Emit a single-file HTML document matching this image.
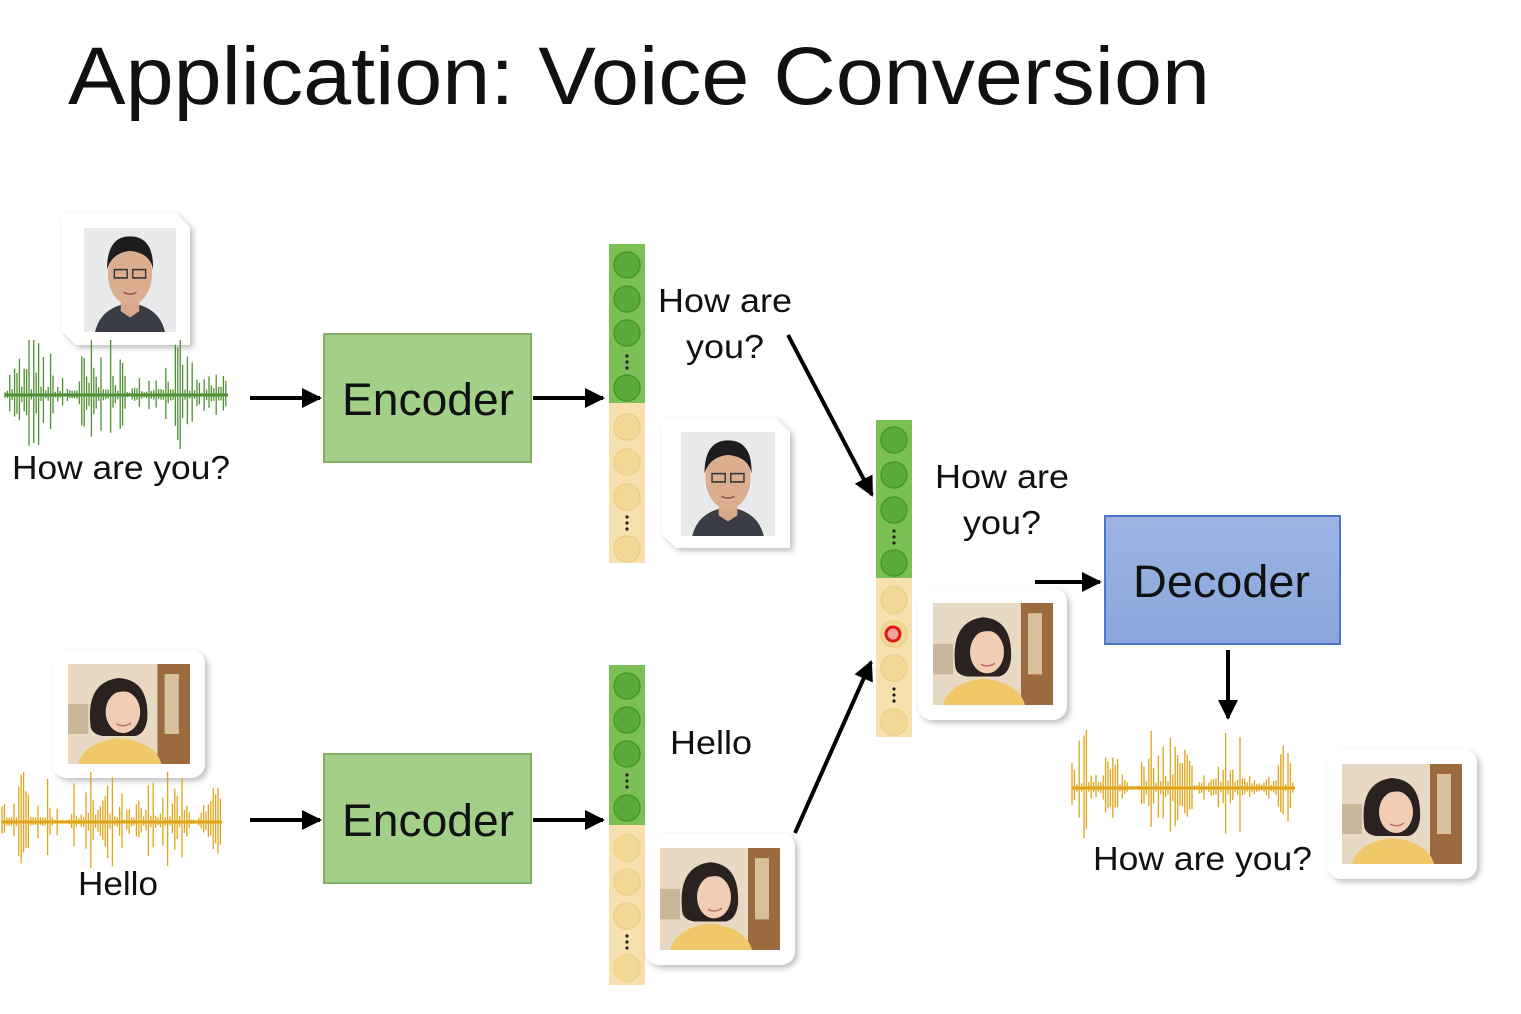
<!DOCTYPE html>
<html><head><meta charset="utf-8">
<style>
html,body{margin:0;padding:0;background:#fff;}
svg{display:block;}
text{font-family:"Liberation Sans","DejaVu Sans",sans-serif;fill:#111;}
</style></head>
<body>
<svg id="s" width="1521" height="1014" viewBox="0 0 1521 1014" xmlns="http://www.w3.org/2000/svg">
<defs>
  <marker id="ah" viewBox="0 0 10 10" refX="9" refY="5" markerWidth="5" markerHeight="5" orient="auto">
    <path d="M0,0 L10,5 L0,10 z" fill="#000"/>
  </marker>
  <linearGradient id="dec" x1="0" y1="0" x2="0" y2="1">
    <stop offset="0" stop-color="#9db4e3"/><stop offset="1" stop-color="#8aa6dc"/>
  </linearGradient>
  <filter id="sh" x="-10%" y="-10%" width="130%" height="130%">
    <feDropShadow dx="3" dy="3" stdDeviation="3" flood-color="#000" flood-opacity="0.25"/>
  </filter>
  <g id="man">
    <rect x="0" y="0" width="100" height="100" fill="#e9eaec"/>
    <path d="M12,100 Q18,76 50,72 Q82,76 88,100 z" fill="#3a3d45"/>
    <path d="M40,68 L60,68 L60,80 L50,86 L40,80 z" fill="#d9a88a"/>
    <ellipse cx="50" cy="44" rx="24" ry="30" fill="#dcae90"/>
    <path d="M25,40 Q25,8 50,8 Q76,8 75,40 Q72,24 50,22 Q30,24 25,40 z" fill="#1d1d1f"/>
    <rect x="33" y="40" width="14" height="8" fill="none" stroke="#333" stroke-width="1.5"/>
    <rect x="53" y="40" width="14" height="8" fill="none" stroke="#333" stroke-width="1.5"/>
    <path d="M43,62 Q50,65 57,62" stroke="#8a5a4a" stroke-width="1.5" fill="none"/>
  </g>
  <g id="woman">
    <rect x="0" y="0" width="120" height="100" fill="#e8d9c4"/>
    <rect x="88" y="0" width="32" height="100" fill="#9b6a3e"/>
    <rect x="95" y="10" width="14" height="60" fill="#d8c09c"/>
    <rect x="0" y="40" width="20" height="30" fill="#c9b79c"/>
    <path d="M10,100 Q16,78 50,74 Q86,78 92,100 z" fill="#f0c869"/>
    <path d="M22,60 Q18,18 50,14 Q80,16 78,55 Q76,70 66,72 L34,72 Q22,70 22,60 z" fill="#2a2220"/>
    <ellipse cx="54" cy="48" rx="17" ry="21" fill="#f2cdb4"/>
    <path d="M36,40 Q44,22 68,30 Q60,24 46,26 Q36,30 36,40 z" fill="#2a2220"/>
    <path d="M48,60 Q55,64 62,59" stroke="#c0706a" stroke-width="1.5" fill="none"/>
  </g>
</defs>

<text x="68" y="104" font-size="82" fill="#1a1a1a" textLength="1142" lengthAdjust="spacingAndGlyphs">Application: Voice Conversion</text>

<g filter="url(#sh)">
  <path d="M62,213 L176,213 L190,227 L190,345 L76,345 L62,331 z" fill="#fff"/>
</g>
<svg x="84" y="228" width="92" height="104" viewBox="0 0 100 100" preserveAspectRatio="none"><use href="#man"/></svg>

<g id="wv1"></g>
<text x="12" y="479" font-size="33" textLength="218" lengthAdjust="spacingAndGlyphs">How are you?</text>

<line x1="250" y1="398" x2="320" y2="398" stroke="#000" stroke-width="4" marker-end="url(#ah)"/>
<rect x="324" y="334" width="207" height="128" fill="#a3cf88" stroke="#82b068" stroke-width="2"/>
<text x="342" y="415" font-size="45" textLength="172" lengthAdjust="spacingAndGlyphs">Encoder</text>
<line x1="533" y1="398" x2="603" y2="398" stroke="#000" stroke-width="4" marker-end="url(#ah)"/>

<g id="vec1"></g>

<text x="658" y="312" font-size="33" textLength="134" lengthAdjust="spacingAndGlyphs">How are</text>
<text x="686" y="358" font-size="33" textLength="78" lengthAdjust="spacingAndGlyphs">you?</text>

<g filter="url(#sh)">
  <path d="M662,418 L776,418 L790,432 L790,548 L676,548 L662,534 z" fill="#fff"/>
</g>
<svg x="681" y="432" width="94" height="104" viewBox="0 0 100 100" preserveAspectRatio="none"><use href="#man"/></svg>

<line x1="788" y1="335" x2="872" y2="495" stroke="#000" stroke-width="4" marker-end="url(#ah)"/>

<g id="vec2"></g>
<circle cx="893" cy="634" r="7" fill="#f2a0a0" stroke="#e01818" stroke-width="3"/>

<text x="935" y="488" font-size="33" textLength="134" lengthAdjust="spacingAndGlyphs">How are</text>
<text x="963" y="534" font-size="33" textLength="78" lengthAdjust="spacingAndGlyphs">you?</text>

<g filter="url(#sh)"><rect x="918" y="588" width="149" height="132" rx="14" fill="#fff"/></g>
<svg x="933" y="603" width="120" height="102" viewBox="0 0 120 100" preserveAspectRatio="none"><use href="#woman"/></svg>

<line x1="1035" y1="582" x2="1100" y2="582" stroke="#000" stroke-width="4" marker-end="url(#ah)"/>
<rect x="1105" y="516" width="235" height="128" fill="url(#dec)" stroke="#4d78c6" stroke-width="2"/>
<text x="1133" y="597" font-size="45" textLength="177" lengthAdjust="spacingAndGlyphs">Decoder</text>
<line x1="1228" y1="650" x2="1228" y2="718" stroke="#000" stroke-width="4" marker-end="url(#ah)"/>

<g id="wv3"></g>
<text x="1093" y="870" font-size="33" textLength="219" lengthAdjust="spacingAndGlyphs">How are you?</text>
<g filter="url(#sh)"><rect x="1327" y="749" width="150" height="130" rx="14" fill="#fff"/></g>
<svg x="1342" y="764" width="120" height="100" viewBox="0 0 120 100" preserveAspectRatio="none"><use href="#woman"/></svg>

<g filter="url(#sh)"><rect x="53" y="650" width="152" height="128" rx="14" fill="#fff"/></g>
<svg x="68" y="664" width="122" height="100" viewBox="0 0 120 100" preserveAspectRatio="none"><use href="#woman"/></svg>
<g id="wv2"></g>
<text x="78" y="895" font-size="33" textLength="80" lengthAdjust="spacingAndGlyphs">Hello</text>

<line x1="250" y1="820" x2="320" y2="820" stroke="#000" stroke-width="4" marker-end="url(#ah)"/>
<rect x="324" y="754" width="207" height="129" fill="#a3cf88" stroke="#82b068" stroke-width="2"/>
<text x="342" y="836" font-size="45" textLength="172" lengthAdjust="spacingAndGlyphs">Encoder</text>
<line x1="533" y1="820" x2="603" y2="820" stroke="#000" stroke-width="4" marker-end="url(#ah)"/>

<g id="vec3"></g>
<text x="670" y="754" font-size="33" textLength="82" lengthAdjust="spacingAndGlyphs">Hello</text>

<g filter="url(#sh)"><rect x="645" y="833" width="150" height="132" rx="14" fill="#fff"/></g>
<svg x="660" y="848" width="120" height="102" viewBox="0 0 120 100" preserveAspectRatio="none"><use href="#woman"/></svg>

<line x1="795" y1="833" x2="871" y2="662" stroke="#000" stroke-width="4" marker-end="url(#ah)"/>

<script>
(function(){
var NS="http://www.w3.org/2000/svg";
function el(t,a,p){var e=document.createElementNS(NS,t);for(var k in a)e.setAttribute(k,a[k]);p.appendChild(e);return e;}
var seed=7;function rnd(){seed=(seed*16807)%2147483647;return seed/2147483647;}
function wave(id,x0,x1,cy,amp,col){
  var g=document.getElementById(id);var d="";
  for(var x=x0;x<=x1;x+=2.4){
    var env=0.2+0.8*Math.abs(Math.sin((x-x0)/(x1-x0)*Math.PI*3.2+0.4));
    var r=rnd();var a=amp*env*(0.1+0.9*r*r*r*1.3);if(a>amp)a=amp;
    var b=a*(0.6+0.4*rnd());
    d+="M"+x.toFixed(1)+","+(cy-a).toFixed(1)+"L"+x.toFixed(1)+","+(cy+b).toFixed(1);
  }
  el("path",{d:d,stroke:col,"stroke-width":"1.3",fill:"none"},g);
  el("line",{x1:x0,y1:cy,x2:x1,y2:cy,stroke:col,"stroke-width":"3"},g);
}
wave("wv1",5,228,395,55,"#4e8f32");
wave("wv2",2,222,822,50,"#e0a418");
wave("wv3",1072,1295,788,58,"#e0a418");
function vec(id,x,top,mid,bot,gy,yy){
  var g=document.getElementById(id);
  el("rect",{x:x,y:top,width:36,height:mid-top,fill:"#7cbf54"},g);
  el("rect",{x:x,y:mid,width:36,height:bot-mid,fill:"#f6e1ae"},g);
  var cx=x+18;
  function col(list,fill,stroke){
    list.forEach(function(y){
      if(typeof y==="string"){var yc=+y.slice(1);for(var k=-1;k<=1;k++)el("circle",{cx:cx,cy:yc+k*6,r:1.6,fill:"#222"},g);}
      else el("circle",{cx:cx,cy:y,r:13,fill:fill,stroke:stroke,"stroke-width":"1.5"},g);
    });
  }
  col(gy,"#5aab3a","#4a9630");
  col(yy,"#f3d896","#ecd08a");
}
vec("vec1",609,244,403,563,[265,299,333,"d362",388],[427,462,497,"d523",549]);
vec("vec2",876,420,578,737,[440,475,510,"d537",563],[600,634,668,"d695",722]);
vec("vec3",609,665,825,985,[686,720,754,"d781",808],[848,882,916,"d942",968]);
})();
</script>
</svg>
</body></html>
